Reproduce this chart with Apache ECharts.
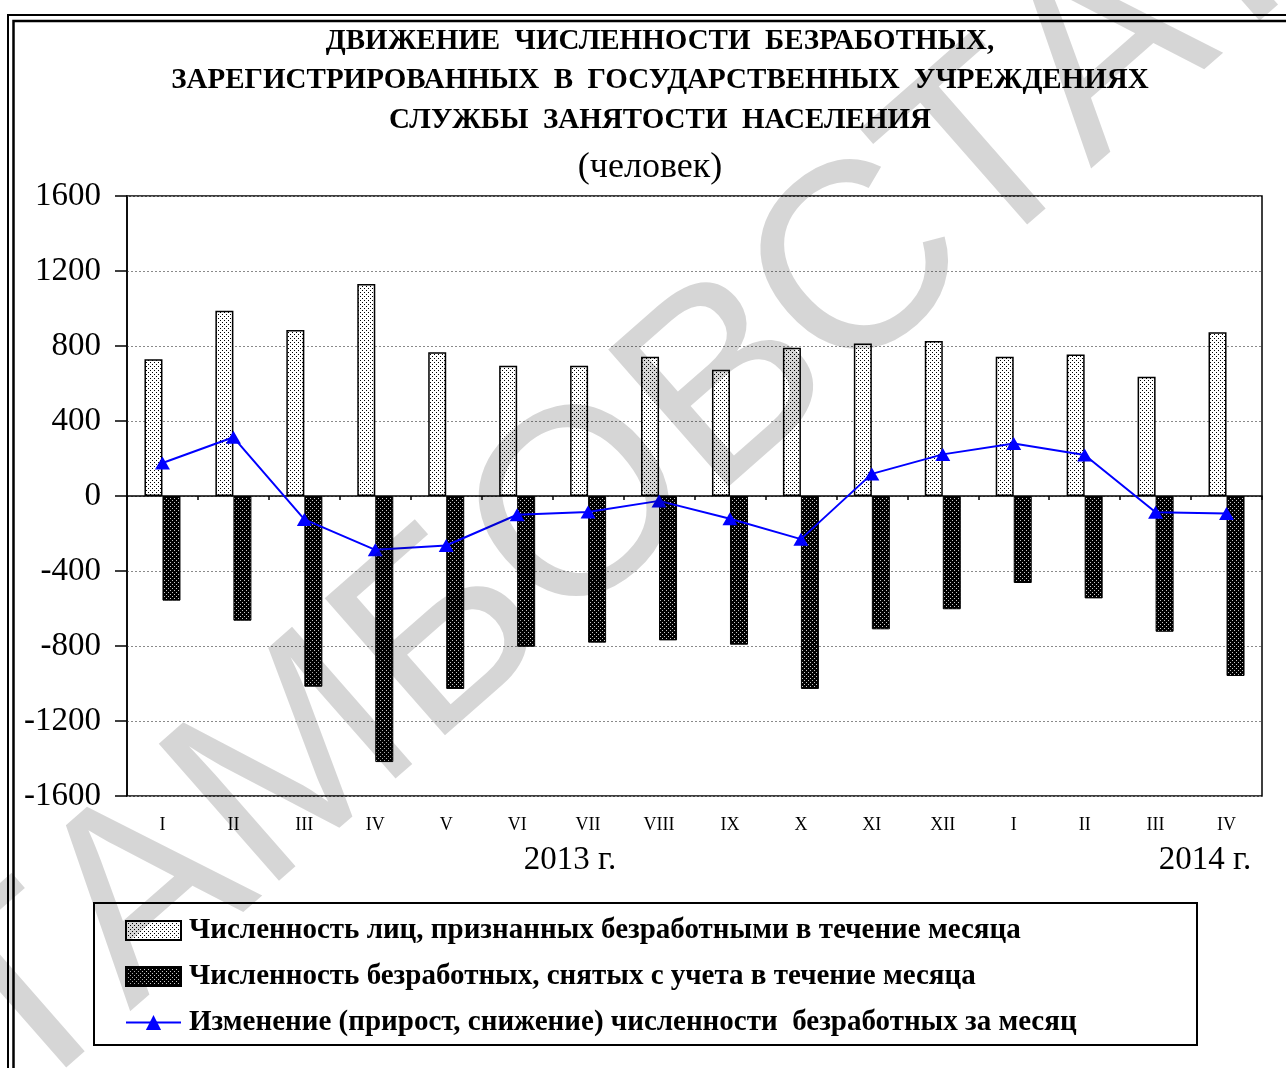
<!DOCTYPE html>
<html>
<head>
<meta charset="utf-8">
<script src="https://cdn.jsdelivr.net/npm/echarts@6/dist/echarts.min.js"></script>
<style>
  html, body { margin: 0; padding: 0; background: #fff; }
  #chart { width: 1286px; height: 1068px; }
</style>
</head>
<body>
<div id="chart"></div>
<script>
// ---- data ----
var months = ['I', 'II', 'III', 'IV', 'V', 'VI', 'VII', 'VIII', 'IX', 'X', 'XI', 'XII', 'I', 'II', 'III', 'IV'];
var recognized = [730, 988, 885, 1131, 767, 695, 695, 743, 673, 791, 814, 827, 743, 755, 636, 873];
var removed = [-558, -665, -1017, -1419, -1029, -804, -782, -770, -793, -1029, -711, -604, -464, -546, -724, -960];
var change = [176, 313, -125, -287, -264, -100, -85, -26, -121, -230, 118, 222, 280, 219, -87, -93];
var yTicks = { min: -1600, max: 1600, interval: 400 };
var seriesNames = [
  'Численность лиц, признанных безработными в течение месяца',
  'Численность безработных, снятых с учета в течение месяца',
  'Изменение (прирост, снижение) численности  безработных за месяц'
];
var titleLines = [
  'ДВИЖЕНИЕ  ЧИСЛЕННОСТИ  БЕЗРАБОТНЫХ,',
  'ЗАРЕГИСТРИРОВАННЫХ  В  ГОСУДАРСТВЕННЫХ  УЧРЕЖДЕНИЯХ',
  'СЛУЖБЫ  ЗАНЯТОСТИ  НАСЕЛЕНИЯ'
];
var unitText = '(человек)';
var yearLabels = ['2013 г.', '2014 г.'];
var watermark = 'ТАМБОВСТАТ';

// ---- patterns ----
function makePattern(bg, fg) {
  var c = document.createElement('canvas');
  c.width = 4; c.height = 4;
  var g = c.getContext('2d');
  g.fillStyle = bg; g.fillRect(0, 0, 4, 4);
  g.fillStyle = fg; g.fillRect(0, 0, 1, 1); g.fillRect(2, 2, 1, 1);
  return c;
}
var lightPat = { image: makePattern('#ffffff', '#000000'), repeat: 'repeat' };
var darkPat = { image: makePattern('#000000', '#c8c8c8'), repeat: 'repeat' };

var serif = 'Liberation Serif';
var chart = echarts.init(document.getElementById('chart'), null, { renderer: 'canvas' });

var graphics = [
  { type: 'rect', shape: { x: 8, y: 15, width: 1300, height: 1080 }, style: { fill: 'none', stroke: '#000', lineWidth: 2 }, silent: true, z: 1 },
  { type: 'rect', shape: { x: 13.5, y: 21, width: 1300, height: 1080 }, style: { fill: 'none', stroke: '#000', lineWidth: 2.5 }, silent: true, z: 1 },
  { type: 'rect', shape: { x: 94, y: 903, width: 1103, height: 142 }, style: { fill: 'none', stroke: '#000', lineWidth: 2 }, silent: true, z: 1 }
];
var titleY = [42, 81, 121];
titleLines.forEach(function (t, i) {
  graphics.push({ type: 'text', x: 660, y: titleY[i], style: { text: t, font: 'bold 29px "Liberation Serif"', fill: '#000', textAlign: 'center', textVerticalAlign: 'middle' }, z: 5 });
});
graphics.push({ type: 'text', x: 650, y: 168, style: { text: unitText, font: '36px "Liberation Serif"', fill: '#000', textAlign: 'center', textVerticalAlign: 'middle' }, z: 5 });
graphics.push({ type: 'text', x: 570, y: 860, style: { text: yearLabels[0], font: '33px "Liberation Serif"', fill: '#000', textAlign: 'center', textVerticalAlign: 'middle' }, z: 5 });
graphics.push({ type: 'text', x: 1205, y: 860, style: { text: yearLabels[1], font: '33px "Liberation Serif"', fill: '#000', textAlign: 'center', textVerticalAlign: 'middle' }, z: 5 });
graphics.push({ type: 'text', x: 624, y: 481, rotation: 0.72, silent: true, z: 100,
  style: { text: watermark, font: '265px "Liberation Sans"', fill: 'rgba(0,0,0,0.16)', textAlign: 'center', textVerticalAlign: 'middle' } });

var option = {
  backgroundColor: '#ffffff',
  animation: false,
  grid: { left: 127, right: 24, top: 196, bottom: 272, show: true, borderColor: '#000', borderWidth: 1.5, backgroundColor: 'transparent' },
  legend: {
    orient: 'vertical', left: 125, top: 916, padding: 0,
    itemWidth: 55, itemHeight: 19, itemGap: 17,
    selectedMode: false,
    textStyle: { fontFamily: serif, fontWeight: 'bold', fontSize: 29, color: '#000', lineHeight: 29, padding: [0, 0, 0, 3] },
    data: [
      { name: seriesNames[0], icon: 'rect' },
      { name: seriesNames[1], icon: 'rect' },
      { name: seriesNames[2] }
    ]
  },
  xAxis: [
    {
      type: 'category', data: months, gridIndex: 0,
      axisLine: { show: true, onZero: true, lineStyle: { color: '#000', width: 1.5 } },
      axisTick: { show: true, length: 4, lineStyle: { color: '#000', width: 1.5 } },
      axisLabel: { show: false },
      splitLine: { show: false }
    },
    {
      type: 'category', data: months, gridIndex: 0, position: 'bottom',
      axisLine: { show: false, onZero: false },
      axisTick: { show: false },
      axisLabel: { show: true, margin: 20, fontFamily: serif, fontSize: 18, color: '#000' },
      splitLine: { show: false }
    }
  ],
  yAxis: {
    type: 'value', min: yTicks.min, max: yTicks.max, interval: yTicks.interval,
    axisLine: { show: true, lineStyle: { color: '#000', width: 1.5 } },
    axisTick: { show: true, length: 12, lineStyle: { color: '#000', width: 1.5 } },
    axisLabel: { margin: 26, fontFamily: serif, fontSize: 33, color: '#000', formatter: function (v) { return String(v); } },
    splitLine: { show: true, lineStyle: { color: '#8a8a8a', width: 1, type: [2, 2] } }
  },
  series: [
    {
      name: seriesNames[0], type: 'bar', data: recognized, barWidth: 18, barGap: '0%',
      itemStyle: { color: lightPat, borderColor: '#000', borderWidth: 1.5 }, z: 3
    },
    {
      name: seriesNames[1], type: 'bar', data: removed, barWidth: 18,
      itemStyle: { color: darkPat, borderColor: '#000', borderWidth: 1 }, z: 3
    },
    {
      name: seriesNames[2], type: 'line', data: change,
      symbol: 'triangle', symbolSize: [15, 13],
      lineStyle: { color: '#0000ff', width: 2 },
      itemStyle: { color: '#0000ff' }, z: 10
    }
  ],
  graphic: graphics
};
chart.setOption(option);
</script>
</body>
</html>
